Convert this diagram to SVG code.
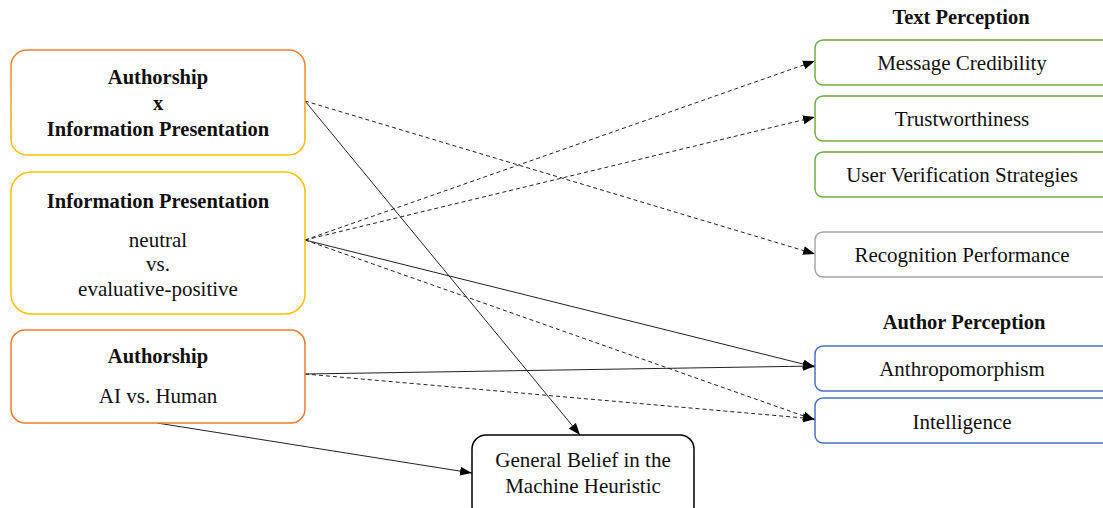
<svg xmlns="http://www.w3.org/2000/svg" width="1103" height="508" viewBox="0 0 1103 508">
<style>
text{font-family:"Liberation Serif","Times New Roman",serif;font-size:21px;fill:#111;text-anchor:middle}
.b{font-weight:bold;font-size:20.5px}
.box{fill:#fff;stroke-width:1.5}
.c{stroke:#222;stroke-width:1;fill:none}
.d{stroke-dasharray:4,3}
</style>
<defs>
<linearGradient id="g1" x1="0" y1="0" x2="0" y2="1">
<stop offset="0" stop-color="#ED7D31"/>
<stop offset="1" stop-color="#FFC000"/>
</linearGradient>
<marker id="ah" viewBox="0 0 12 10" refX="12" refY="5" markerWidth="12" markerHeight="10" markerUnits="userSpaceOnUse" orient="auto">
<path d="M0,0.5 L12,5 L0,9.5 z" fill="#000"/>
</marker>
</defs>
<g id="connectors">
<line class="c d" x1="305" y1="101" x2="815" y2="254" marker-end="url(#ah)"/>
<line class="c" x1="305" y1="101" x2="580" y2="435" marker-end="url(#ah)"/>
<line class="c d" x1="305" y1="240" x2="815" y2="61" marker-end="url(#ah)"/>
<line class="c d" x1="305" y1="240" x2="815" y2="117" marker-end="url(#ah)"/>
<line class="c" x1="305" y1="240" x2="815" y2="367" marker-end="url(#ah)"/>
<line class="c d" x1="305" y1="240" x2="815" y2="420" marker-end="url(#ah)"/>
<line class="c" x1="305" y1="374" x2="815" y2="366" marker-end="url(#ah)"/>
<line class="c d" x1="305" y1="374" x2="815" y2="419" marker-end="url(#ah)"/>
<line class="c" x1="157" y1="423" x2="472" y2="473" marker-end="url(#ah)"/>
</g>
<g id="n-authxinfo">
<rect class="box" x="11" y="50" width="294" height="105" rx="16" stroke="url(#g1)"/>
<text class="b" x="158" y="84">Authorship</text>
<text class="b" x="158" y="110">x</text>
<text class="b" x="158" y="136">Information Presentation</text>
</g>
<g id="n-info">
<rect class="box" x="11" y="172" width="294" height="142" rx="20" stroke="#FFC000"/>
<text class="b" x="158" y="208">Information Presentation</text>
<text x="158" y="247">neutral</text>
<text x="158" y="271">vs.</text>
<text x="158" y="296">evaluative-positive</text>
</g>
<g id="n-auth">
<rect class="box" x="11" y="330" width="294" height="93" rx="14" stroke="#ED7D31"/>
<text class="b" x="158" y="363">Authorship</text>
<text x="158" y="403">AI vs. Human</text>
</g>
<g id="h-text"><text class="b" x="961" y="24">Text Perception</text></g>
<g id="n-msg">
<rect class="box" x="815" y="40" width="300" height="45" rx="8" stroke="#70AD47"/>
<text x="962" y="70">Message Credibility</text>
</g>
<g id="n-trust">
<rect class="box" x="815" y="96" width="300" height="45" rx="8" stroke="#70AD47"/>
<text x="962" y="126">Trustworthiness</text>
</g>
<g id="n-uvs">
<rect class="box" x="815" y="152" width="300" height="45" rx="8" stroke="#70AD47"/>
<text x="962" y="182">User Verification Strategies</text>
</g>
<g id="n-rec">
<rect class="box" x="815" y="232" width="300" height="45" rx="8" stroke="#A5A5A5"/>
<text x="962" y="262">Recognition Performance</text>
</g>
<g id="h-author"><text class="b" x="964" y="329">Author Perception</text></g>
<g id="n-anth">
<rect class="box" x="815" y="346" width="300" height="45" rx="8" stroke="#4472C4"/>
<text x="962" y="376">Anthropomorphism</text>
</g>
<g id="n-intel">
<rect class="box" x="815" y="398" width="300" height="45" rx="8" stroke="#4472C4"/>
<text x="962" y="429">Intelligence</text>
</g>
<g id="n-gbmh">
<rect class="box" x="472" y="435" width="222" height="85" rx="14" stroke="#000"/>
<text x="583" y="467">General Belief in the</text>
<text x="583" y="493">Machine Heuristic</text>
</g>
</svg>
